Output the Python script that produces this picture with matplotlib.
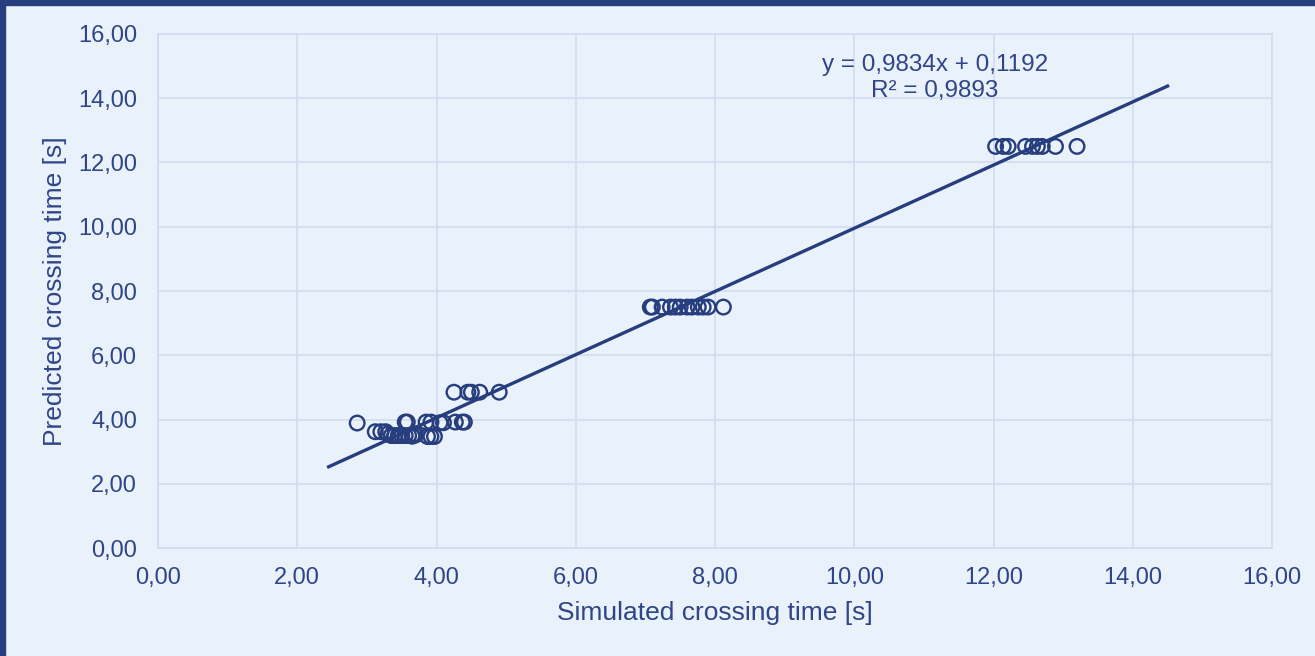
import matplotlib.pyplot as plt
from matplotlib.ticker import FuncFormatter, MultipleLocator
import numpy as np

plt.rcParams['font.family'] = ['Liberation Sans', 'DejaVu Sans']

# simulated vs predicted crossing times
sim_low = [2.86, 3.12, 3.20, 3.27, 3.30, 3.35, 3.40, 3.45, 3.50, 3.55, 3.60, 3.65, 3.70,
           3.55, 3.58, 3.85, 3.92, 4.05, 4.10, 4.27, 4.37, 4.40,
           3.87, 3.92, 3.97, 3.65, 3.68,
           4.25, 4.45, 4.50, 4.62, 4.90]
pred_low = [3.89, 3.62, 3.62, 3.62, 3.55, 3.50, 3.50, 3.50, 3.50, 3.50, 3.50, 3.50, 3.52,
            3.92, 3.92, 3.92, 3.92, 3.90, 3.90, 3.92, 3.92, 3.92,
            3.47, 3.47, 3.47, 3.48, 3.55,
            4.85, 4.85, 4.85, 4.85, 4.85]
sim_mid = [7.07, 7.10, 7.24, 7.36, 7.43, 7.50, 7.60, 7.67, 7.76, 7.83, 7.90, 8.12]
pred_mid = [7.5] * len(sim_mid)
sim_high = [12.03, 12.14, 12.21, 12.46, 12.56, 12.63, 12.70, 12.89, 13.20]
pred_high = [12.5] * len(sim_high)

slope = 0.9834
intercept = 0.1192
r2 = 0.9893
trend_x = [2.45, 14.5]

navy = '#263D7E'
text_c = '#2F4588'
bg = '#E9F1FA'
grid_c = '#D3DCF0'

sim = sim_low + sim_mid + sim_high
pred = pred_low + pred_mid + pred_high

fig = plt.figure(figsize=(13.15, 6.56), dpi=100, facecolor=bg)
ax = fig.add_axes([0.1202, 0.1646, 0.8471, 0.7836], facecolor=bg)

ax.scatter(sim, pred, s=110, facecolors='none', edgecolors=navy, linewidths=1.7, zorder=3)
tx = np.array(trend_x)
ax.plot(tx, slope * tx + intercept, color=navy, lw=2.4, zorder=4)

def comma(v, pos):
    return f'{v:.2f}'.replace('.', ',')

ax.set_xlim(0, 16)
ax.set_ylim(0, 16)
ax.xaxis.set_major_locator(MultipleLocator(2))
ax.yaxis.set_major_locator(MultipleLocator(2))
ax.xaxis.set_major_formatter(FuncFormatter(comma))
ax.yaxis.set_major_formatter(FuncFormatter(comma))
ax.tick_params(length=0, labelsize=17, labelcolor=text_c)
ax.tick_params(axis='x', pad=14)
ax.tick_params(axis='y', pad=15)
ax.grid(True, color=grid_c, lw=1.2)
ax.set_axisbelow(True)
for s in ax.spines.values():
    s.set_color(grid_c)
    s.set_linewidth(1.2)

ax.set_xlabel('Simulated crossing time [s]', fontsize=19, color=text_c, labelpad=8)
ax.set_ylabel('Predicted crossing time [s]', fontsize=19, color=text_c, labelpad=8)

eq = f'y = {slope:.4f}x + {intercept:.4f}'.replace('.', ',')
rr = f'R² = {r2:.4f}'.replace('.', ',')
ax.text(11.16, 14.63, eq + '\n' + rr, ha='center', va='center', multialignment='center',
        fontsize=17.5, color=text_c, linespacing=1.2)

# dark frame on the left and top edges
fig.patches.append(plt.Rectangle((0, 0), 5 / 1315, 1, transform=fig.transFigure,
                                 color=navy, zorder=10))
fig.patches.append(plt.Rectangle((0, 1 - 5 / 656), 1, 5 / 656, transform=fig.transFigure,
                                 color=navy, zorder=10))

fig.savefig('out.png', dpi=100, facecolor=bg)
